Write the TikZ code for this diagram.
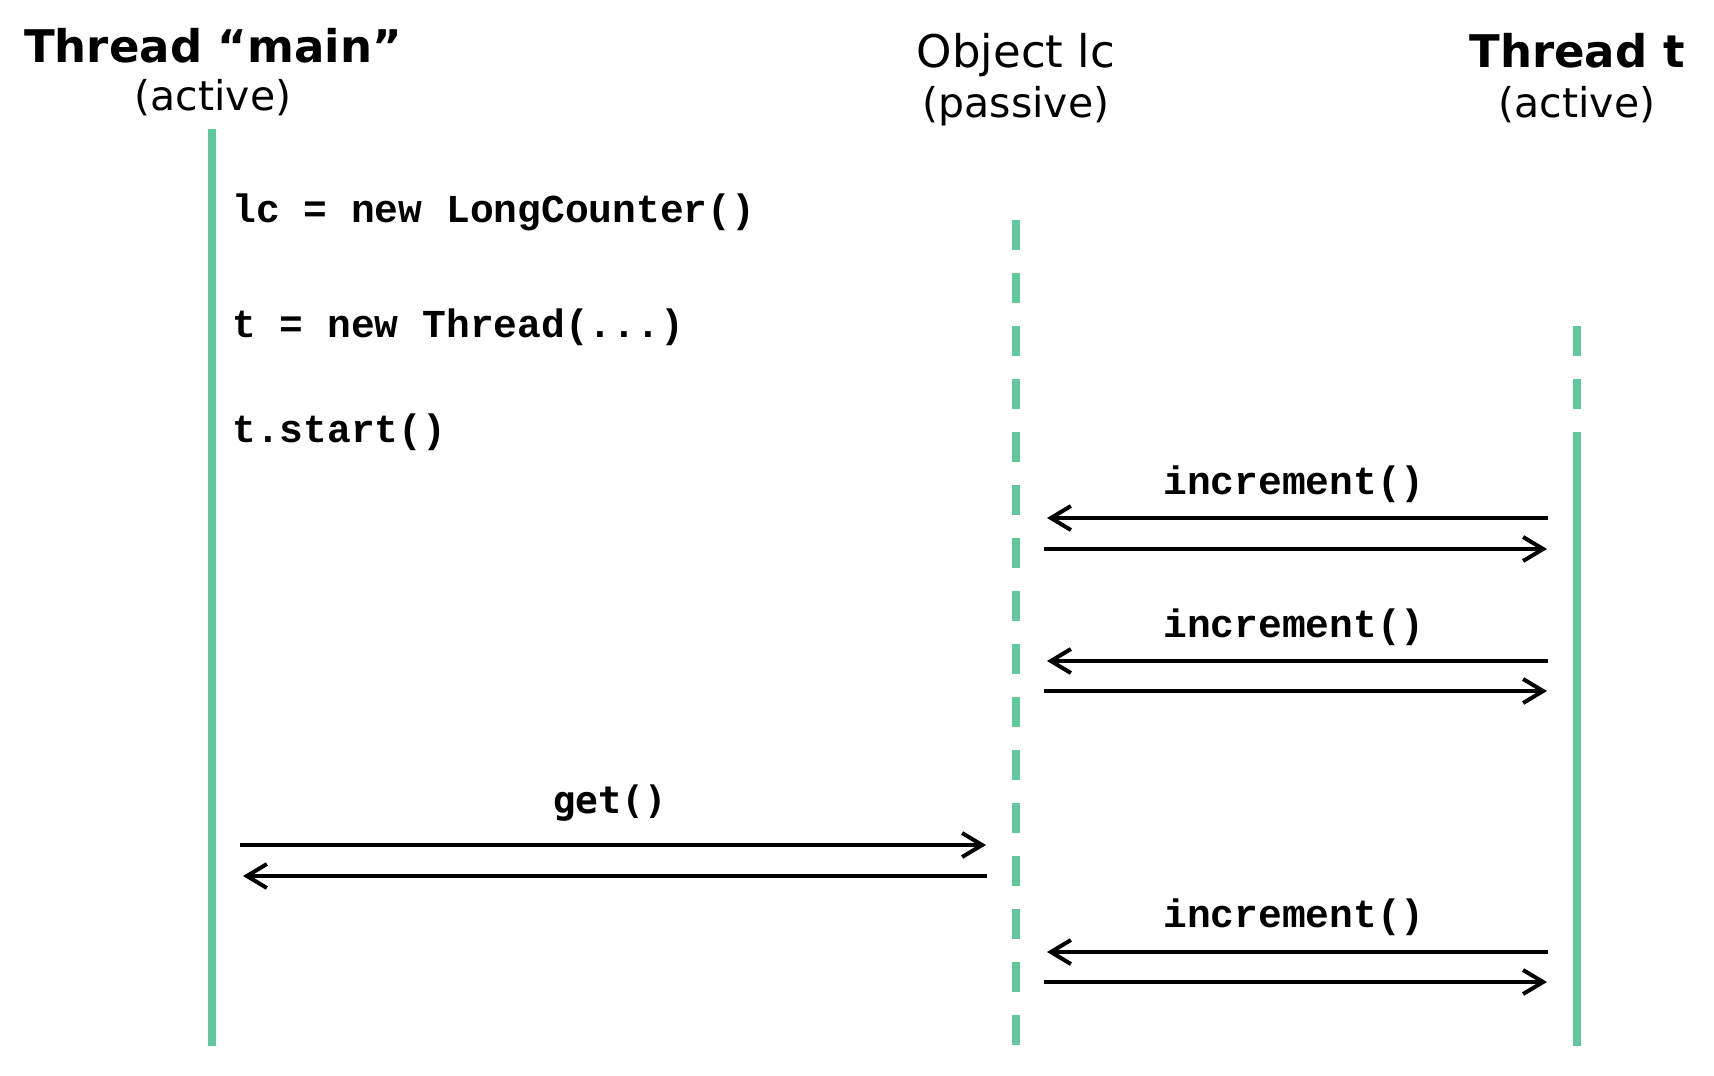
\documentclass[tikz,border=0pt]{standalone}
\usepackage{fontspec}
\setmainfont{DejaVu Sans}
\newfontfamily\codefont{Liberation Mono}
\newfontfamily\getfont{DejaVu Sans Mono}
\usetikzlibrary{arrows.meta}
\definecolor{lifegreen}{RGB}{96,200,158}
\begin{document}
\begin{tikzpicture}[x=0.5pt,y=-0.5pt,
  hdr/.style={inner sep=0pt,anchor=base,font=\fontsize{22.5pt}{27pt}\selectfont},
  hdrb/.style={hdr,font=\fontsize{22.5pt}{27pt}\selectfont\bfseries},
  sub/.style={inner sep=0pt,anchor=base,font=\fontsize{20.5pt}{25pt}\selectfont},
  code/.style={inner sep=0pt,font=\fontsize{19.8pt}{24pt}\selectfont\codefont\bfseries},
  getlbl/.style={inner sep=0pt,anchor=base,font=\fontsize{18.9pt}{23pt}\selectfont\getfont\bfseries},
  life/.style={draw=lifegreen,line width=3.75pt},
  lifedash/.style={life,dash pattern=on 15pt off 11.5pt},
  msg/.style={draw=black,line width=2pt,-{Straight Barb[length=10pt,width=12pt]}}
]
\useasboundingbox (0,0) rectangle (1714,1076);

% headers
\node[hdrb] (tmain) at (213,62) {Thread “main”};
\node[sub] (tmainact) at (213,110) {(active)};
\node[hdr] (obj) at (1016,68) {Object lc};
\node[sub] (objpas) at (1016,117) {(passive)};
\node[hdrb] (tt) at (1577,67) {Thread t};
\node[sub] (ttact) at (1577,117) {(active)};

% lifelines
\coordinate (mtop) at (212,129);
\coordinate (mbot) at (212,1046);
\draw[life] (mtop) -- (mbot);

\coordinate (otop) at (1016,220);
\coordinate (obot) at (1016,1046);
\draw[lifedash] (otop) -- (obot);

\coordinate (ttop) at (1577,326);
\coordinate (tmid) at (1577,410);
\coordinate (tsol) at (1577,432);
\coordinate (tbot) at (1577,1046);
\draw[lifedash] (ttop) -- (tmid);
\draw[life] (tsol) -- (tbot);

% code on main thread
\node[code,anchor=base west] (c1) at (232,222) {lc = new LongCounter()};
\node[code,anchor=base west] (c2) at (232,337) {t = new Thread(...)};
\node[code,anchor=base west] (c3) at (232,442) {t.start()};

% increment 1
\node[code,anchor=base] (inc1) at (1294,494) {increment()};
\coordinate (a1s) at (1548,518); \coordinate (a1e) at (1047,518);
\coordinate (r1s) at (1044,549); \coordinate (r1e) at (1547,549);
\draw[msg] (a1s) -- (a1e);
\draw[msg] (r1s) -- (r1e);

% increment 2
\node[code,anchor=base] (inc2) at (1294,637) {increment()};
\coordinate (a2s) at (1548,661); \coordinate (a2e) at (1047,661);
\coordinate (r2s) at (1044,691); \coordinate (r2e) at (1547,691);
\draw[msg] (a2s) -- (a2e);
\draw[msg] (r2s) -- (r2e);

% get
\node[getlbl] (get) at (610,813) {get()};
\coordinate (g1s) at (240,845); \coordinate (g1e) at (986,845);
\coordinate (g2s) at (987,876); \coordinate (g2e) at (243,876);
\draw[msg] (g1s) -- (g1e);
\draw[msg] (g2s) -- (g2e);

% increment 3
\node[code,anchor=base] (inc3) at (1294,927) {increment()};
\coordinate (a3s) at (1548,952); \coordinate (a3e) at (1047,952);
\coordinate (r3s) at (1044,982); \coordinate (r3e) at (1547,982);
\draw[msg] (a3s) -- (a3e);
\draw[msg] (r3s) -- (r3e);
\end{tikzpicture}
\end{document}
